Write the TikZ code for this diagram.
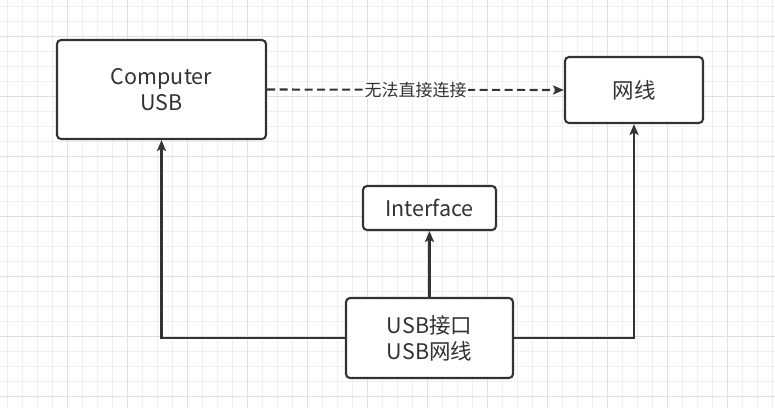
\documentclass[tikz,border=0pt]{standalone}
\usepackage{fontspec}
\setmainfont{Noto Sans CJK SC}
\usetikzlibrary{arrows.meta}
\definecolor{boxc}{HTML}{333333}
\definecolor{txtc}{HTML}{333333}
\definecolor{gridminor}{HTML}{EFEFEF}
\definecolor{gridmajor}{HTML}{E0E0E0}
\begin{document}
\begin{tikzpicture}[x=1pt,y=-1pt,
  box/.style={draw=boxc, line width=2.1pt, rounded corners=4pt, fill=white, inner sep=0pt, align=center, text=txtc, font=\fontsize{21.5}{26}\selectfont},
  conn/.style={draw=boxc, line width=2.1pt, -{Stealth[length=11pt,width=9pt,inset=2.5pt]}},
  lbl/.style={fill=white, inner sep=1pt, text=txtc, font=\fontsize{17}{20}\selectfont},
]
\useasboundingbox (0,0) rectangle (775,408);
\fill[white] (0,0) rectangle (775,408);
% grid
\foreach \k in {0,...,51} {\draw[gridminor, line width=1pt] ({7.7+15*\k},0) -- ({7.7+15*\k},408);}
\foreach \k in {0,...,26} {\draw[gridminor, line width=1pt] (0,{6.7+15*\k}) -- (775,{6.7+15*\k});}
\foreach \k in {0,...,11} {\draw[gridmajor, line width=1pt] ({67.7+60*\k},0) -- ({67.7+60*\k},408);}
\foreach \k in {0,...,6} {\draw[gridmajor, line width=1pt] (0,{36.7+60*\k}) -- (775,{36.7+60*\k});}
% nodes
\node[box, minimum width=209pt, minimum height=99pt] (comp) at (161.5,89.5) {Computer\\USB};
\node[box, minimum width=138pt, minimum height=66pt] (wang) at (634,90) {网线};
\node[box, minimum width=133pt, minimum height=44pt] (intf) at (429.5,208) {Interface};
\node[box, minimum width=167pt, minimum height=80pt] (usb) at (429.5,338) {USB接口\\USB网线};
% connectors
\draw[conn, dash pattern=on 8pt off 4.5pt] (comp.east) -- node[lbl] (lab) {无法直接连接} (wang.west);
\draw[conn] (usb.west) -| (comp.south);
\draw[conn] (usb.east) -| (wang.south);
\draw[conn] (usb.north) -- (intf.south);
\end{tikzpicture}
\end{document}
